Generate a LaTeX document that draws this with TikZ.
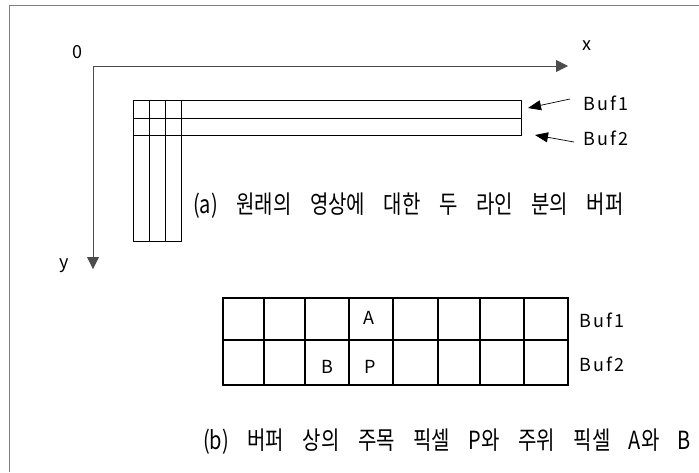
\documentclass[tikz,border=0pt]{standalone}
\usepackage{fontspec}
\setmainfont{Noto Sans CJK KR}
\newfontfamily\krfont[FakeStretch=0.8]{Noto Sans CJK KR}
\newfontfamily\latfont[LetterSpace=12]{Noto Sans CJK KR}
\newcommand\capfont{\krfont\fontsize{25}{27}\selectfont\spaceskip 18.5pt\relax}
\usetikzlibrary{arrows.meta}
\tikzset{
  lbl/.style={inner sep=0pt, font=\latfont\fontsize{18}{20}\selectfont},
  caption/.style={inner sep=0pt, anchor=west, font=\capfont},
  ptr/.style={-{Triangle[length=13pt,width=10pt]}, line width=0.7pt},
  axis/.style={-{Triangle[length=12pt,width=12pt]}, line width=0.8pt, black!70},
  thin line/.style={line width=0.8pt},
  grid line/.style={line width=1.4pt}
}
\begin{document}
\begin{tikzpicture}[x=1pt,y=-1pt]
\useasboundingbox (0,0) rectangle (699,472);
\draw[gray, line width=1pt] (9,472) |- (699,5);
% (a) axes
\coordinate (O) at (93,66);
\coordinate (xend) at (568,66);
\coordinate (yend) at (93,269);
\draw[axis] (O) -- (xend);
\draw[axis] (O) -- (yend);
\node[lbl] (zero) at (77,52) {0};
\node[lbl] (xlab) at (587,46) {x};
\node[lbl] (ylab) at (64,266) {y};
% two line buffers on the image
\draw[thin line] (133,100) rectangle (521,135);
\draw[thin line] (133,118) -- (521,118);
\draw[thin line] (133,100) rectangle (181,241);
\draw[thin line] (149,100) -- (149,241);
\draw[thin line] (165,100) -- (165,241);
\coordinate (tip1) at (528,108);
\coordinate (tip2) at (535,135);
\node[lbl, anchor=west] (bufa1) at (583,103) {Buf1};
\node[lbl, anchor=west] (bufa2) at (583,138) {Buf2};
\draw[ptr] ([xshift=-13pt,yshift=4pt]bufa1.west) -- (tip1);
\draw[ptr] ([xshift=-9pt,yshift=-4pt]bufa2.west) -- (tip2);
\node[caption] (capa) at (193,206) {(a) 원래의 영상에 대한 두 라인 분의 버퍼};
% (b) buffer cells
\draw[grid line] (223,298) rectangle (568,385);
\draw[grid line] (223,340) -- (568,340);
\foreach \x in {264,305,349,393,438,480,524}
  \draw[grid line] (\x,298) -- (\x,385);
\node[lbl] (pa) at (369,318) {A};
\node[lbl] (pb) at (327,367) {B};
\node[lbl] (pp) at (370,367) {P};
\node[lbl, anchor=west] (bufb1) at (579,320) {Buf1};
\node[lbl, anchor=west] (bufb2) at (579,364) {Buf2};
\node[caption] (capb) at (203,442) {(b) 버퍼 상의 주목 픽셀 P와 주위 픽셀 A와 B};
\end{tikzpicture}
\end{document}
